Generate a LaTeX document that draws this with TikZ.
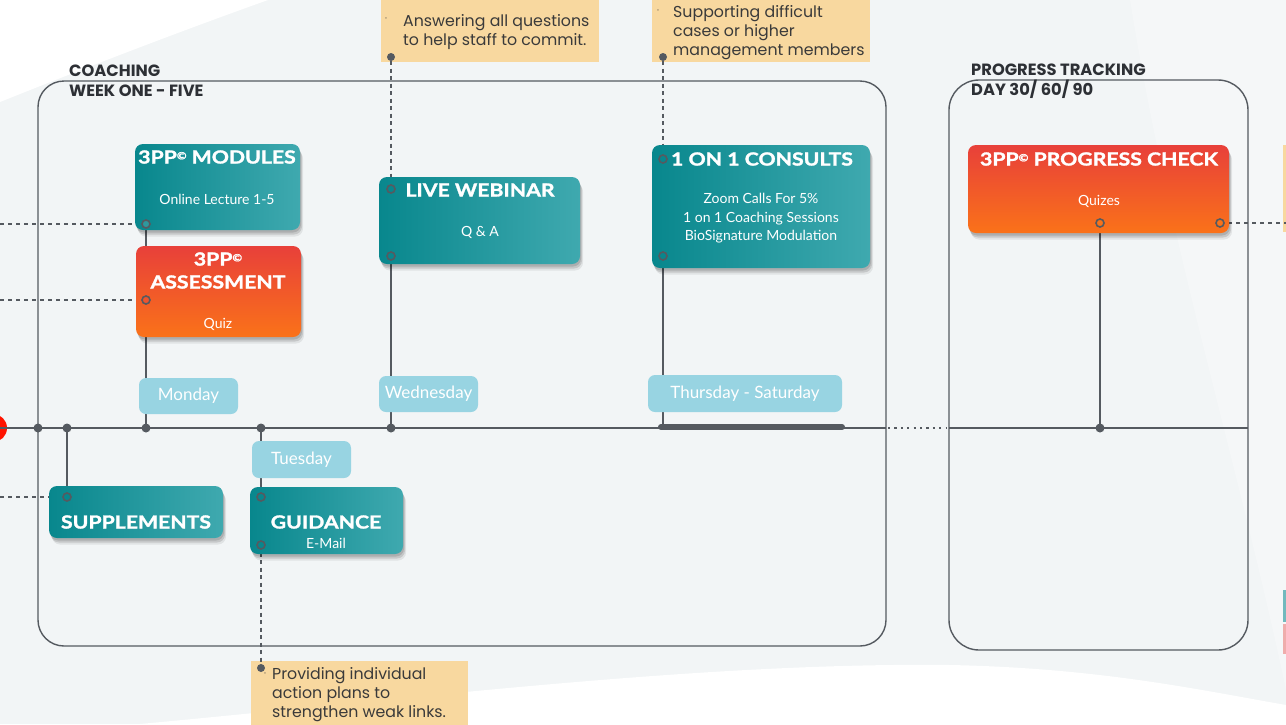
\documentclass[tikz,border=0pt]{standalone}
\usepackage{fontspec}
\usetikzlibrary{shadows}
\newfontfamily\popfont{Poppins}
\newfontfamily\latofont{Lato}
\newfontfamily\ttlfont{Lato}[FakeStretch=1.18, FakeBold=1.6]
\definecolor{bgC}{HTML}{F2F5F6}
\definecolor{lineC}{HTML}{555A60}
\definecolor{tealA}{HTML}{08878D}
\definecolor{tealB}{HTML}{3FA9AF}
\definecolor{redA}{HTML}{E8403A}
\definecolor{oraB}{HTML}{FA7219}
\definecolor{dayC}{HTML}{98D4E2}
\definecolor{noteC}{HTML}{F8D89F}
\definecolor{hdrC}{HTML}{2D3035}
\definecolor{noteT}{HTML}{3A3A3A}
\tikzset{
  softshadow/.style={
    drop shadow={shadow xshift=1pt, shadow yshift=-2.5pt, fill=black, opacity=0.12},
    drop shadow={shadow xshift=2pt, shadow yshift=-4.5pt, fill=black, opacity=0.12},
    drop shadow={shadow xshift=3pt, shadow yshift=-6.5pt, fill=black, opacity=0.07}},
  tealbox/.style={rounded corners=8pt, left color=tealA, right color=tealB, draw=none, softshadow},
  orabox/.style={rounded corners=8pt, top color=redA, bottom color=oraB, draw=none, softshadow},
  daybox/.style={rounded corners=7pt, fill=dayC, text=white, font=\latofont\fontsize{17}{17}\selectfont, inner sep=0pt},
  notebox/.style={fill=noteC, draw=none, inner sep=0pt},
  notetext/.style={font=\popfont\fontsize{15.8}{19}\selectfont, text=noteT, align=left, inner sep=0pt, anchor=north west},
  hdr/.style={font=\popfont\bfseries\fontsize{16.3}{20}\selectfont, text=hdrC, align=left, inner sep=0pt, anchor=north west},
  ttl/.style={font=\ttlfont\bfseries\fontsize{18}{20}\selectfont, text=white, inner sep=0pt},
  body/.style={font=\latofont\fontsize{14}{18.5}\selectfont, text=white, inner sep=0pt, align=center},
  frame/.style={draw=lineC, line width=1.4pt, rounded corners=26pt},
  tl/.style={draw=lineC, line width=2pt},
  dashc/.style={draw=lineC, line width=1.6pt, dash pattern=on 4pt off 4pt},
  dotc/.style={draw=lineC, line width=2pt, dash pattern=on 4pt off 3.5pt},
  tdot/.style={circle, fill=lineC, inner sep=0pt, minimum size=9pt},
  port/.style={circle, draw=lineC, line width=1.6pt, inner sep=0pt, minimum size=8pt},
}
\newcommand{\cpr}{\raisebox{0.45ex}{\fontsize{10}{10}\selectfont\textcopyright}}
\begin{document}
\begin{tikzpicture}[x=1pt,y=-1pt]
\useasboundingbox (0,0) rectangle (1286,724);
% background
\fill[bgC] (0,0) rectangle (1286,724);
\fill[white!22!bgC] (1130,0) -- (1286,0) -- (1286,690) .. controls (1235,450) and (1170,250) .. cycle;
\fill[white] (0,0) -- (268,0) .. controls (170,35) and (80,70) .. (0,102) -- cycle;
\fill[white] (140,724) .. controls (400,700) and (700,662) .. (950,665) .. controls (1100,668) and (1200,690) .. (1286,705) -- (1286,724) -- cycle;
% partial items at the edges
\fill[red!85!orange] (-7,428) circle (14);
\fill[tealA, opacity=0.55] (1283,590) rectangle (1300,622);
\fill[redA, opacity=0.4] (1283,624) rectangle (1300,654);
\fill[noteC] (1283,145) rectangle (1290,232);
% frames
\draw[frame] (38,81) rectangle (886,646);
\draw[frame, rounded corners=30pt] (949,80) rectangle (1248,650);
\node[hdr] (hcoach) at (69,65) {COACHING\\WEEK ONE - FIVE};
\node[hdr] (hprog) at (971,64) {PROGRESS TRACKING\\DAY 30/ 60/ 90};
% notes
\node[notebox, minimum width=218pt, minimum height=62pt, anchor=north west] (n1) at (381,0) {};
\node[notebox, minimum width=218pt, minimum height=62pt, anchor=north west] (n2) at (652,0) {};
\node[notebox, minimum width=217pt, minimum height=64pt, anchor=north west] (n3) at (251,661) {};
\node[notetext] (n1t) at (403,14.5) {Answering all questions\\to help staff to commit.};
\node[notetext] (n2t) at (673,5.5) {Supporting difficult\\cases or higher\\management members};
\node[notetext] (n3t) at (272,667.5) {Providing individual\\action plans to\\strengthen weak links.};
\node[font=\popfont\fontsize{9}{9}\selectfont, text=noteT, inner sep=0pt] (b1) at (386,20) {·};
\node[font=\popfont\fontsize{9}{9}\selectfont, text=noteT, inner sep=0pt] (b2) at (658,12) {·};
\node[font=\popfont\fontsize{9}{9}\selectfont, text=noteT, inner sep=0pt] (b3) at (265,675) {·};
\node[tdot, minimum size=8pt] (n1d) at (391,57) {};
\node[tdot, minimum size=8pt] (n2d) at (663,57) {};
\node[tdot, minimum size=8pt] (n3d) at (261,668) {};
% timeline coordinates
\coordinate (tl0) at (0,428);
\coordinate (tl1) at (886,428);
\coordinate (tl2) at (949,428);
\coordinate (tl3) at (1248,428);
\coordinate (c4) at (663,428);
\coordinate (bar1) at (661,427);
\coordinate (bar2) at (842,427);
\coordinate (l1) at (0,224);
\coordinate (l2) at (0,300);
\coordinate (l3) at (0,497);
\coordinate (r1) at (1286,223);
% ports (positions)
\coordinate (modp) at (146,224);
\coordinate (assp) at (146,300);
\coordinate (suppp) at (67,497);
\coordinate (guidp) at (261,497);
\coordinate (guidq) at (261,545);
\coordinate (webp) at (391,256);
\coordinate (webq) at (391,189);
\coordinate (consp) at (663,256);
\coordinate (consq) at (663,159);
\coordinate (progp) at (1100,223);
\coordinate (progq) at (1220,223);
% lines
\draw[tl] (tl0) -- (tl1);
\draw[dotc, line width=2.2pt, dash pattern=on 2.2pt off 4.2pt] (888,428) -- (946,428);
\draw[tl] (tl2) -- (tl3);
\draw[draw=lineC, line width=6pt, line cap=round] (bar1) -- (bar2);
\draw[tl] (67,428) -- (suppp);
\draw[tl] (146,428) -- (modp);
\draw[tl] (261,428) -- (guidp);
\draw[tl] (391,428) -- (webp);
\draw[tl] (c4) -- (consp);
\draw[tl] (1100,428) -- (progp);
\draw[dashc] (l1) -- (modp);
\draw[dashc] (l2) -- (assp);
\draw[dashc] (l3) -- (suppp);
\draw[dashc] (progq) -- (r1);
\draw[dotc] (n1d) -- (webq);
\draw[dotc] (n2d) -- (consq);
\draw[dotc] (guidq) -- (n3d);
% timeline dots
\node[tdot] (d0) at (38,428) {};
\node[tdot] (d1) at (67,428) {};
\node[tdot] (d2) at (146,428) {};
\node[tdot] (d3) at (261,428) {};
\node[tdot] (d4) at (391,428) {};
\node[tdot] (d5) at (1100,428) {};
% boxes
\node[tealbox, minimum width=165pt, minimum height=86pt] (mod) at (217.5,187) {};
\node[orabox, minimum width=165pt, minimum height=91pt] (ass) at (218.5,291.5) {};
\node[tealbox, minimum width=201pt, minimum height=87pt] (web) at (479.5,220.5) {};
\node[tealbox, minimum width=218pt, minimum height=123pt] (cons) at (761,206.5) {};
\node[orabox, minimum width=261pt, minimum height=88pt] (prog) at (1098.5,189) {};
\node[tealbox, minimum width=174pt, minimum height=52pt] (supp) at (136,512) {};
\node[tealbox, minimum width=153pt, minimum height=67pt] (guid) at (326.5,520.5) {};
% box texts
\node[ttl] (modt) at (217,157) {3PP\cpr{} MODULES};
\node[body] (modb) at (217,199) {Online Lecture 1-5};
\node[ttl] (asst1) at (218,259) {3PP\cpr};
\node[ttl] (asst2) at (218,282) {ASSESSMENT};
\node[body] (assb) at (218,324) {Quiz};
\node[ttl] (webt) at (480,190) {LIVE WEBINAR};
\node[body] (webb) at (480,232) {Q \& A};
\node[ttl] (const) at (762,159) {1 ON 1 CONSULTS};
\node[body] (consb) at (761,218.5) {Zoom Calls For 5\%\\1 on 1 Coaching Sessions\\BioSignature Modulation};
\node[ttl] (progt) at (1099,159) {3PP\cpr{} PROGRESS CHECK};
\node[body] (progb) at (1099,201) {Quizes};
\node[ttl] (suppt) at (136,522) {SUPPLEMENTS};
\node[ttl] (guidt) at (326,522) {GUIDANCE};
\node[body] (guidb) at (326,543) {E-Mail};
% ports (drawn on boxes)
\node[port, fill=tealA!85!white] (modpn) at (modp) {};
\node[port, fill=redA!60!oraB] (asspn) at (assp) {};
\node[port, fill=tealA] (supppn) at (suppp) {};
\node[port, fill=tealA] (guidpn) at (guidp) {};
\node[port, fill=tealA] (guidqn) at (guidq) {};
\node[port, fill=tealA] (webpn) at (webp) {};
\node[port, fill=tealA] (webqn) at (webq) {};
\node[port, fill=tealA] (conspn) at (consp) {};
\node[port, fill=tealA] (consqn) at (consq) {};
\node[port, fill=oraB] (progpn) at (progp) {};
\node[port, fill=oraB] (progqn) at (progq) {};
% day labels
\node[daybox, minimum width=99pt, minimum height=36pt] (mon) at (188.5,396) {Monday};
\node[daybox, minimum width=99pt, minimum height=36pt] (wed) at (428.5,394) {Wednesday};
\node[daybox, minimum width=194pt, minimum height=37pt] (thu) at (745,393.5) {Thursday - Saturday};
\node[daybox, minimum width=99pt, minimum height=37pt] (tue) at (301.5,459.5) {Tuesday};
\end{tikzpicture}
\end{document}
